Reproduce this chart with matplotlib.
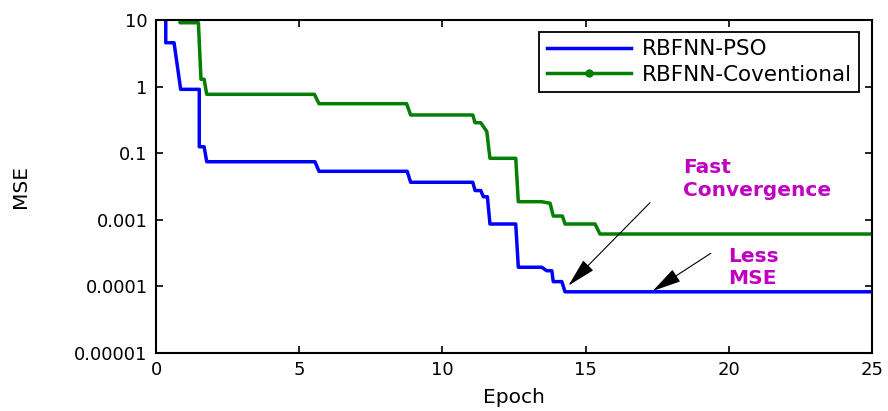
import numpy as np
import matplotlib.pyplot as plt
from matplotlib.lines import Line2D

# valori (asse y in posizione logaritmica)
epoch_pso = [0, 0.34, 0.34, 0.63, 0.86, 1.51, 1.51, 1.68, 1.77, 5.55, 5.69, 8.77, 8.89,
             11.06, 11.14, 11.34, 11.43, 11.57, 11.66, 12.56, 12.65, 13.47, 13.64, 13.82,
             13.87, 14.17, 14.28, 25]
mse_pso = [100, 100, 4.56, 4.56, 0.91, 0.91, 0.125, 0.125, 0.0745, 0.0745, 0.0535, 0.0535,
           0.0366, 0.0366, 0.0275, 0.0275, 0.0222, 0.0222, 0.00865, 0.00865, 0.00194,
           0.00194, 0.00172, 0.00172, 0.00118, 0.00118, 0.00083, 0.00083]

epoch_conv = [0, 0.84, 0.84, 1.48, 1.57, 1.68, 1.77, 5.53, 5.69, 8.75, 8.89, 11.06, 11.14,
              11.34, 11.55, 11.66, 12.56, 12.65, 13.47, 13.76, 13.87, 14.19, 14.28, 15.33,
              15.50, 25]
mse_conv = [100, 100, 9.1, 9.1, 1.29, 1.29, 0.766, 0.766, 0.554, 0.554, 0.375, 0.375, 0.287,
            0.287, 0.211, 0.0838, 0.0838, 0.0187, 0.0187, 0.0177, 0.0114, 0.0114, 0.00865,
            0.00865, 0.00612, 0.00612]

ytick_pos = [10, 1, 0.1, 0.01, 0.001, 0.0001]
ytick_lab = ['10', '1', '0.1', '0.001', '0.0001', '0.00001']
xtick_pos = [0, 5, 10, 15, 20, 25]

blu = '#0000ff'
verde = '#007f00'
magenta = '#c000c0'

fig = plt.figure(figsize=(8.88, 4.11), dpi=100)
ax = fig.add_axes([0.1757, 0.1411, 0.8063, 0.8102])

ax.plot(epoch_pso, mse_pso, color=blu, lw=2.5)
ax.plot(epoch_conv, mse_conv, color=verde, lw=2.5)

ax.set_yscale('log')
ax.set_xlim(0, 25)
ax.set_ylim(0.0001, 10)
ax.set_xticks(xtick_pos)
ax.set_yticks(ytick_pos)
ax.set_yticklabels(ytick_lab)
ax.minorticks_off()
ax.tick_params(direction='in', length=5, width=1.2, labelsize=13, pad=6,
               top=True, right=True)
for s in ax.spines.values():
    s.set_linewidth(1.5)

ax.set_xlabel('Epoch', fontsize=14.5, labelpad=6)
ax.set_ylabel('MSE', fontsize=14.5, labelpad=32)

# legenda
maniglie = [Line2D([], [], color=blu, lw=2.5),
            Line2D([], [], color=verde, lw=2.5, marker='o', markersize=5)]
leg = ax.legend(maniglie, ['RBFNN-PSO', 'RBFNN-Coventional'], loc='upper right',
                bbox_to_anchor=(0.982, 0.965), fontsize=15.5, handlelength=3.9,
                handletextpad=0.5, labelspacing=0.25, fancybox=False, framealpha=1,
                edgecolor='black', borderaxespad=0, borderpad=0.35)
leg.get_frame().set_linewidth(1.3)

# annotazioni
freccia = dict(arrowstyle='-|>,head_length=1.3,head_width=0.32', color='black',
               lw=0.8, mutation_scale=14, shrinkA=0, shrinkB=0)
ax.annotate('', xy=(14.40, 0.00103), xytext=(17.25, 0.0181), arrowprops=freccia)
ax.annotate('', xy=(17.34, 0.000853), xytext=(19.37, 0.00314), arrowprops=freccia)

ax.text(18.39, 0.0406, 'Fast\nConvergence', color=magenta, fontsize=14.5,
        fontweight='bold', ha='left', va='center', linespacing=1.25)
ax.text(19.97, 0.00192, 'Less\nMSE', color=magenta, fontsize=14.5,
        fontweight='bold', ha='left', va='center', linespacing=1.15)

fig.savefig('out.png', dpi=100)
